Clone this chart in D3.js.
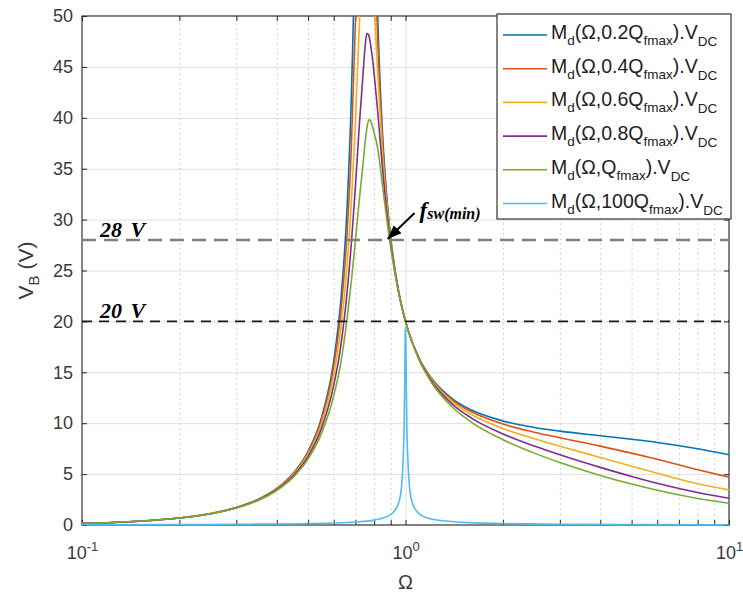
<!DOCTYPE html>
<html>
<head>
<meta charset="utf-8">
<script src="https://d3js.org/d3.v7.min.js"></script>
<style>
body{margin:0;background:#fff;}
svg{display:block;font-family:"Liberation Sans",Arial,sans-serif;}
</style>
</head>
<body>
<svg id="chart" width="743" height="592"></svg>
<script>
// normalised switching frequency (Omega) samples
const omega = [0.1,0.15,0.2,0.25,0.3,0.35,0.4,0.45,0.5,0.55,
               0.6,0.63,0.66,0.68,0.7,0.72,0.74,0.75,0.76,0.77,
               0.78,0.79,0.8,0.82,0.85,0.88,0.9,0.95,1,1.1,
               1.2,1.4,1.6,2,2.5,3,4,5,6,8,
               10];
// V_B (V) for each quality factor
const v02 = [0.16,0.37,0.69,1.13,1.72,2.51,3.59,5.08,7.24,10.54,
             16.15,21.82,31.27,41.97,60.59,98.2,169,178.6,148.8,115.9,
             92.3,76.2,64.8,50.25,38.21,31.37,28.25,23.12,20,16.43,
             14.46,12.37,11.29,10.22,9.58,9.22,8.77,8.42,8.11,7.49,
             6.9];
const v04 = [0.16,0.37,0.69,1.12,1.71,2.5,3.56,5.03,7.13,10.31,
             15.56,20.68,28.72,37.01,49.38,67.45,87,91.4,89.3,82.5,
             74,65.8,58.7,47.81,37.46,31.11,28.12,23.1,20,16.41,
             14.4,12.25,11.12,9.92,9.12,8.57,7.75,7.06,6.45,5.43,
             4.7];
const v06 = [0.16,0.37,0.69,1.12,1.7,2.48,3.52,4.94,6.96,9.95,
             14.71,19.12,25.57,31.62,39.53,49.19,58.3,61.2,62.1,61.1,
             58.5,55.2,51.4,44.43,36.3,30.69,27.91,23.07,20,16.37,
             14.32,12.07,10.85,9.48,8.47,7.74,6.63,5.77,5.08,4.06,
             3.45];
const v08 = [0.16,0.37,0.68,1.11,1.69,2.45,3.46,4.83,6.74,9.5,
             13.72,17.44,22.9,27.6,33.2,39.3,44.5,47,48.3,48.1,
             47.2,45.9,44.3,40.72,34.85,30.13,27.62,23.03,20,16.32,
             14.2,11.83,10.5,8.94,7.76,6.9,5.66,4.77,4.1,3.19,
             2.63];
const v10 = [0.16,0.37,0.68,1.11,1.67,2.41,3.39,4.7,6.49,9,
             12.7,15.81,20.3,23.9,27.9,32,35.6,37.6,39,39.8,
             39.7,39.2,38.5,37.08,33.22,29.45,27.26,22.98,20,16.26,
             14.05,11.54,10.09,8.38,7.06,6.14,4.87,4.02,3.41,2.61,
             2.14];
// the very selective 100*Q curve
const omegaHi = [0.1,0.2,0.3,0.5,0.7,0.8,0.9,0.95,0.97,0.99,0.995,0.998,1,
                 1.002,1.005,1.01,1.03,1.05,1.1,1.2,1.5,2,3,5,10];
const v100 = [0.02,0.045,0.07,0.14,0.3,0.48,1.02,2.09,3.48,9.5,14.7,18.8,19.4,
              18.7,14.6,9.45,3.57,2.19,1.12,0.59,0.26,0.14,0.08,0.045,0.02];

const qLabels = ["0.2","0.4","0.6","0.8","","100"];
const colors = ["#0072BD","#D95319","#EDB120","#7E2F8E","#77AC30","#4DBEEE"];
const yTicks = d3.range(0, 51, 5);
const xMajor = [0.1, 1, 10];
const xMinor = [0.2,0.3,0.4,0.5,0.6,0.7,0.8,0.9,2,3,4,5,6,7,8,9];
const refLevels = [28, 20];

const W = 743, H = 592;
const m = {left: 82, right: 14, top: 16, bottom: 67};
const pw = W - m.left - m.right;
const ph = H - m.top - m.bottom;

const svg = d3.select("#chart");
const g = svg.append("g").attr("transform", `translate(${m.left},${m.top})`);

const x = d3.scaleLog().domain([0.1, 10]).range([0, pw]);
const y = d3.scaleLinear().domain([0, 50]).range([ph, 0]);

//grid
g.append("g")
    .call(d3.axisLeft(y).tickValues(yTicks.slice(1, -1)).tickSize(-pw).tickFormat(""))
    .call(s => s.select(".domain").remove())
    .selectAll("line").attr("stroke", "#dfdfdf");
g.append("g").attr("transform", `translate(0,${ph})`)
    .call(d3.axisBottom(x).tickValues(xMinor).tickSize(-ph).tickFormat(""))
    .call(s => s.select(".domain").remove())
    .selectAll("line").attr("stroke", "#d2d2d2").attr("stroke-dasharray", "2,3");
g.append("g").attr("transform", `translate(0,${ph})`)
    .call(d3.axisBottom(x).tickValues([1]).tickSize(-ph).tickFormat(""))
    .call(s => s.select(".domain").remove())
    .selectAll("line").attr("stroke", "#dfdfdf");

//box
g.append("rect").attr("width", pw).attr("height", ph)
    .attr("fill", "none").attr("stroke", "#333").attr("stroke-width", 1.2);

//ticks, inside like matlab
const tickCol = "#262626";
function styleAxis(s){
    s.select(".domain").remove();
    s.selectAll("line").attr("stroke", tickCol);
    s.attr("font-family", null).attr("font-size", 18);
    s.selectAll("text").attr("fill", "#3a3a3a");
}
g.append("g").call(d3.axisLeft(y).tickValues(yTicks).tickSize(-5).tickPadding(9)).call(styleAxis);
g.append("g").attr("transform", `translate(${pw},0)`)
    .call(d3.axisRight(y).tickValues(yTicks).tickSize(-5).tickFormat("")).call(styleAxis);
g.append("g").call(d3.axisTop(x).tickValues(xMajor.concat(xMinor)).tickSize(-5).tickFormat("")).call(styleAxis);
g.append("g").attr("transform", `translate(0,${ph})`)
    .call(d3.axisBottom(x).tickValues(xMinor).tickSize(-5).tickFormat("")).call(styleAxis);
const xAx = g.append("g").attr("transform", `translate(0,${ph})`)
    .call(d3.axisBottom(x).tickValues(xMajor).tickSize(-5).tickPadding(21)).call(styleAxis);
xAx.selectAll(".tick text").each(function(d){
    const t = d3.select(this).text("");
    t.append("tspan").text("10");
    t.append("tspan").attr("dy", -8).attr("font-size", 13).text(Math.round(Math.log10(d)));
});

//axis labels
g.append("text").attr("x", x(1)).attr("y", ph + 64).attr("text-anchor", "middle")
    .attr("font-size", 20).attr("fill", "#3a3a3a").text("Ω");
const yl = g.append("text").attr("transform", `translate(${-49},${ph / 2}) rotate(-90)`)
    .attr("text-anchor", "middle").attr("font-size", 21).attr("fill", "#3a3a3a");
yl.append("tspan").text("V");
yl.append("tspan").attr("dy", 6).attr("font-size", 15).text("B");
yl.append("tspan").attr("dy", -6).text(" (V)");

//curves
svg.append("defs").append("clipPath").attr("id", "clip")
    .append("rect").attr("x", 0).attr("y", 0).attr("width", pw).attr("height", ph + 2);
const line = d3.line().x(d => x(d[0])).y(d => y(d[1])).curve(d3.curveMonotoneX);
const series = [v02, v04, v06, v08, v10].map(v => omega.map((o, i) => [o, v[i]]));
series.push(omegaHi.map((o, i) => [o, v100[i]]));
const plot = g.append("g").attr("clip-path", "url(#clip)");
series.forEach((s, i) => {
    plot.append("path").datum(s).attr("d", line)
        .attr("fill", "none").attr("stroke", colors[i]).attr("stroke-width", 1.6);
});

//reference levels
g.selectAll(".ref").data(refLevels).enter().append("line")
    .attr("x1", 0).attr("x2", pw).attr("y1", d => y(d)).attr("y2", d => y(d))
    .attr("stroke", d => d == 28 ? "#7f7f7f" : "#1a1a1a")
    .attr("stroke-width", d => d == 28 ? 2.6 : 1.6)
    .attr("stroke-dasharray", d => d == 28 ? "14,8" : "10,7");
g.selectAll(".refl").data(refLevels).enter().append("text")
    .attr("x", 18).attr("y", d => y(d) - 3)
    .attr("font-family", "'Liberation Serif','Times New Roman',serif")
    .attr("font-weight", "bold").attr("font-style", "italic").attr("font-size", 22)
    .attr("word-spacing", 3)
    .text(d => d + " V");

//fsw(min) arrow
const tipX = x(0.874), tipY = y(28);
svg.select("defs").append("marker").attr("id", "head")
    .attr("viewBox", "0 0 10 10").attr("refX", 10).attr("refY", 5)
    .attr("markerWidth", 14).attr("markerHeight", 11).attr("markerUnits", "userSpaceOnUse")
    .attr("orient", "auto").attr("preserveAspectRatio", "none")
    .append("path").attr("d", "M0,0L10,5L0,10z").attr("fill", "#000");
g.append("line").attr("x1", tipX + 28).attr("y1", tipY - 27).attr("x2", tipX + 1).attr("y2", tipY - 1)
    .attr("stroke", "#000").attr("stroke-width", 2).attr("marker-end", "url(#head)");
const fl = g.append("text").attr("x", tipX + 33).attr("y", tipY - 22)
    .attr("font-family", "'Liberation Serif','Times New Roman',serif")
    .attr("font-weight", "bold").attr("font-style", "italic");
fl.append("tspan").attr("font-size", 23).text("f");
fl.append("tspan").attr("font-size", 16).attr("dy", 1).text("sw(min)");

//legend
const lg = svg.append("g").attr("transform", "translate(497,14)");
lg.append("rect").attr("width", 234).attr("height", 205)
    .attr("fill", "#fff").attr("stroke", "#333").attr("stroke-width", 1.2);
qLabels.forEach((q, i) => {
    const ry = 21 + i * 33.7;
    lg.append("line").attr("x1", 6).attr("x2", 50).attr("y1", ry).attr("y2", ry)
        .attr("stroke", colors[i]).attr("stroke-width", 1.6);
    const t = lg.append("text").attr("x", 54).attr("y", ry + 4).attr("font-size", 19.5).attr("fill", "#222");
    t.append("tspan").text("M");
    t.append("tspan").attr("dy", 6).attr("font-size", 13.5).text("d");
    t.append("tspan").attr("dy", -6).text(`(Ω,${q}Q`);
    t.append("tspan").attr("dy", 6).attr("font-size", 13.5).text("fmax");
    t.append("tspan").attr("dy", -6).text(").V");
    t.append("tspan").attr("dy", 7).attr("font-size", 13.5).text("DC");
});
</script>
</body>
</html>
